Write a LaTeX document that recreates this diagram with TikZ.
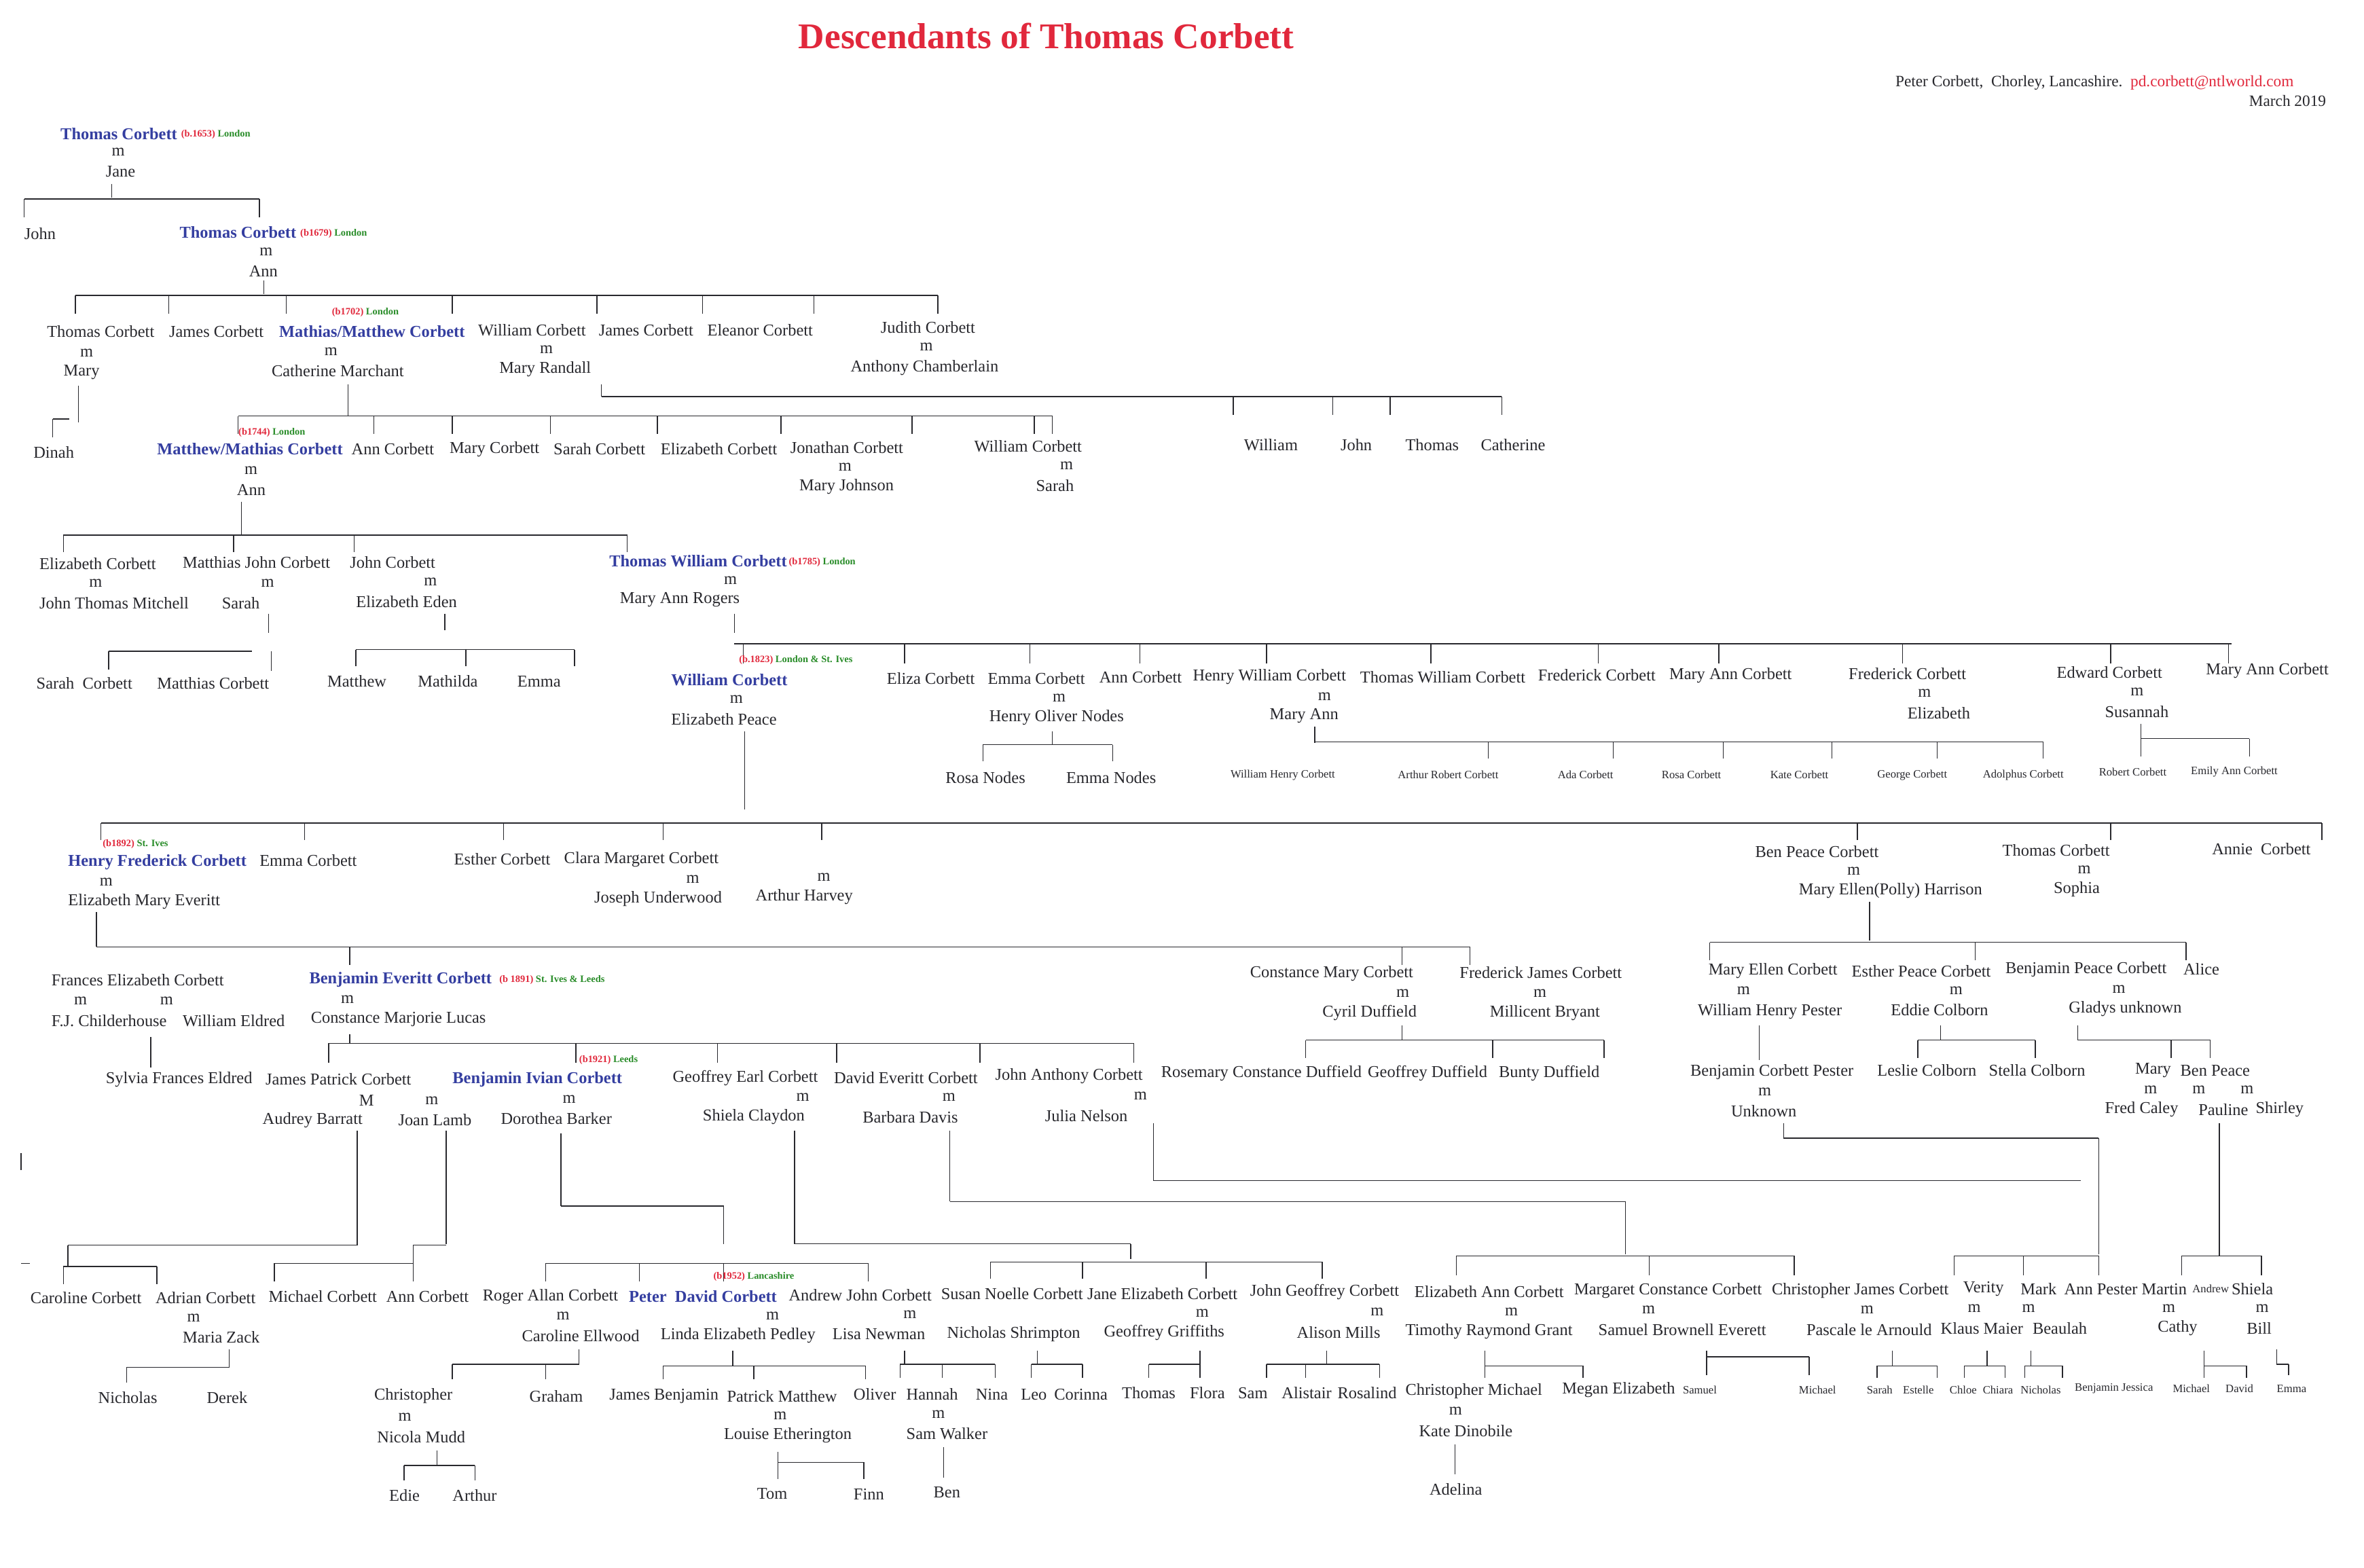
\documentclass[tikz,border=0pt]{standalone}
\usepackage{fontspec}
\setmainfont{Liberation Serif}
\definecolor{kb}{RGB}{52,62,160}
\definecolor{rd}{RGB}{225,40,60}
\definecolor{gr}{RGB}{40,140,40}
\definecolor{ink}{RGB}{40,40,45}
\newcounter{nn}
\newcommand\N[3]{\stepcounter{nn}\node[nm] (n\arabic{nn}) at (#1,#2) {#3};}
\newcommand\K[3]{\stepcounter{nn}\node[nm,kb,font=\fontsize{11}{12}\selectfont\bfseries] (n\arabic{nn}) at (#1,#2) {#3};}
\renewcommand\S[3]{\stepcounter{nn}\node[nm,font=\fontsize{7.5}{8}\selectfont] (n\arabic{nn}) at (#1,#2) {#3};}
\newcommand\B[4]{\stepcounter{nn}\node[nm,font=\fontsize{6.5}{7}\selectfont\bfseries] (n\arabic{nn}) at (#1,#2) {\color{rd}#3\ \color{gr}#4};}
\begin{document}
\begin{tikzpicture}[x=1pt,y=-1pt,
 nm/.style={anchor=west,inner sep=0pt,text=ink,font=\fontsize{11}{12}\selectfont},
 ln/.style={draw=ink,line width=0.6pt}]
\fill[white] (0,0) rectangle (1568,1040);
\node[font=\fontsize{24}{26}\selectfont\bfseries,text=rd] (title) at (694,24) {Descendants of Thomas Corbett};
\node[nm,font=\fontsize{10.5}{11}\selectfont] (auth) at (1257,55) {Peter Corbett,\ \ Chorley, Lancashire.\ \ \color{rd}pd.corbett@ntlworld.com};
\node[nm,anchor=east,font=\fontsize{10.5}{11}\selectfont] (date) at (1543,67) {March 2019};
% gen0
\K{40}{89}{Thomas Corbett}\B{120}{89}{(b.1653)}{London}
\N{74}{101}{m}\N{70}{114}{Jane}
\draw[ln] (74,122)--(74,131) (16,132)--(172,132) (16,132)--(16,144) (172,132)--(172,144);
\N{16}{155}{John}\K{119}{154}{Thomas Corbett}\B{199}{155}{(b1679)}{London}
\N{172}{167}{m}\N{165}{180}{Ann}
\draw[ln] (175,186)--(175,195) (50,196)--(622,196);
\foreach \x in {50,112,190,300,396,466,540,622} \draw[ln] (\x,196)--(\x,208);
% gen2
\N{31}{220}{Thomas Corbett}\N{112}{220}{James Corbett}\K{185}{220}{Mathias/Matthew Corbett}\B{220}{207}{(b1702)}{London}
\N{317}{219}{William Corbett}\N{397}{219}{James Corbett}\N{469}{219}{Eleanor Corbett}\N{584}{217}{Judith Corbett}
\N{53}{234}{m}\N{42}{247}{Mary}\N{215}{233}{m}\N{180}{246}{Catherine Marchant}\N{358}{232}{m}\N{331}{245}{Mary Randall}
\N{610}{230}{m}\N{564}{244}{Anthony Chamberlain}
\draw[ln] (52,256)--(52,280) (35,278)--(35,290) (35,278)--(46,278);
\N{22}{300}{Dinah}
\draw[ln] (231,255)--(231,276) (158,276)--(698,276);
\foreach \x in {158,248,300,365,436,518,605,686,698} \draw[ln] (\x,276)--(\x,288);
\draw[ln] (399,255)--(399,263) (399,263)--(996,263);
\foreach \x in {818,884,922,996} \draw[ln] (\x,263)--(\x,275);
\N{825}{295}{William}\N{889}{295}{John}\N{932}{295}{Thomas}\N{982}{295}{Catherine}
% gen3
\B{158}{287}{(b1744)}{London}\K{104}{298}{Matthew/Mathias Corbett}\N{233}{298}{Ann Corbett}\N{298}{298}{Mary Corbett}
\N{367}{298}{Sarah Corbett}\N{438}{298}{Elizabeth Corbett}\N{524}{297}{Jonathan Corbett}\N{556}{310}{m}\N{530}{323}{Mary Johnson}
\N{646}{296}{William Corbett}\N{703}{309}{m}\N{687}{322}{Sarah}
\N{162}{312}{m}\N{157}{325}{Ann}
\draw[ln] (160,333)--(160,355) (42,355)--(416,355);
\foreach \x in {42,155,235,416} \draw[ln] (\x,355)--(\x,366);
% gen4
\N{26}{374}{Elizabeth Corbett}\N{59}{387}{m}\N{26}{400}{John Thomas Mitchell}
\N{121}{373}{Matthias John Corbett}\N{173}{387}{m}\N{147}{400}{Sarah}
\N{232}{373}{John Corbett}\N{281}{386}{m}\N{236}{399}{Elizabeth Eden}
\K{404}{372}{Thomas William Corbett}\B{523}{373}{(b1785)}{London}\N{480}{385}{m}\N{411}{398}{Mary Ann Rogers}
\draw[ln] (178,407)--(178,420) (72,432)--(167,432) (72,432)--(72,444) (180,432)--(180,445);
\N{24}{453}{Sarah\ \ Corbett}\N{104}{453}{Matthias Corbett}
\draw[ln] (295,407)--(295,418) (236,431)--(381,431);
\foreach \x in {236,309,381} \draw[ln] (\x,431)--(\x,442);
\N{217}{452}{Matthew}\N{277}{452}{Mathilda}\N{343}{452}{Emma}
\draw[ln] (487,407)--(487,420) (487,427)--(1480,427);
\foreach \x in {493,600,683,756,840,949,1060,1140,1262,1400,1478} \draw[ln] (\x,427)--(\x,440);
% gen5
\B{490}{438}{(b.1823)}{London \& St. Ives}\K{445}{451}{William Corbett}\N{484}{464}{m}\N{445}{477}{Elizabeth Peace}
\N{588}{450}{Eliza Corbett}\N{655}{450}{Emma Corbett}\N{698}{463}{m}\N{656}{476}{Henry Oliver Nodes}
\N{729}{449}{Ann Corbett}\N{791}{449}{Henry William Corbett}\N{874}{462}{m}\N{842}{475}{Mary Ann}
\N{902}{449}{Thomas William Corbett}\N{1020}{448}{Frederick Corbett}\N{1107}{448}{Mary Ann Corbett}
\N{1226}{447}{Frederick Corbett}\N{1272}{460}{m}\N{1265}{473}{Elizabeth}
\N{1364}{446}{Edward Corbett}\N{1413}{459}{m}\N{1396}{472}{Susannah}\N{1463}{445}{Mary Ann Corbett}
\draw[ln] (698,485)--(698,494) (652,494)--(738,494) (652,494)--(652,505) (738,494)--(738,505);
\N{627}{516}{Rosa Nodes}\N{707}{516}{Emma Nodes}
\draw[ln] (872,482)--(872,493) (872,492)--(1355,492);
\foreach \x in {987,1070,1143,1215,1285,1355} \draw[ln] (\x,492)--(\x,503);
\S{816}{514}{William Henry Corbett}\S{927}{514}{Arthur Robert Corbett}\S{1033}{514}{Ada Corbett}\S{1102}{514}{Rosa Corbett}
\S{1174}{514}{Kate Corbett}\S{1245}{514}{George Corbett}\S{1315}{514}{Adolphus Corbett}
\draw[ln] (1420,480)--(1420,502) (1420,490)--(1492,490) (1492,490)--(1492,502);
\S{1392}{512}{Robert Corbett}\S{1453}{512}{Emily Ann Corbett}
\draw[ln] (494,485)--(494,537) (67,546)--(1540,546);
\foreach \x in {67,202,334,440,545,1232,1400,1540} \draw[ln] (\x,546)--(\x,557);
% gen6
\B{68}{560}{(b1892)}{St. Ives}\K{45}{572}{Henry Frederick Corbett}\N{172}{571}{Emma Corbett}\N{301}{570}{Esther Corbett}
\N{374}{570}{Clara Margaret Corbett}\N{455}{583}{m}\N{394}{596}{Joseph Underwood}\N{542}{582}{m}\N{501}{595}{Arthur Harvey}
\N{66}{585}{m}\N{45}{598}{Elizabeth Mary Everitt}
\N{1164}{565}{Ben Peace Corbett}\N{1225}{578}{m}\N{1193}{591}{Mary Ellen(Polly) Harrison}
\N{1328}{564}{Thomas Corbett}\N{1378}{577}{m}\N{1362}{590}{Sophia}\N{1467}{563}{Annie\ \ Corbett}
\draw[ln] (64,605)--(64,628) (64,628)--(975,628);
\foreach \x in {232,930,975} \draw[ln] (\x,628)--(\x,640);
\draw[ln] (1240,598)--(1240,624) (1134,625)--(1450,625);
\foreach \x in {1134,1310,1450} \draw[ln] (\x,625)--(\x,637);
% gen7
\N{34}{650}{Frances Elizabeth Corbett}\N{49}{664}{m}\N{106}{664}{m}\N{34}{677}{F.J. Childerhouse}\N{121}{677}{William Eldred}
\K{205}{650}{Benjamin Everitt Corbett}\B{331}{650}{(b 1891)}{St. Ives \& Leeds}\N{226}{663}{m}\N{206}{676}{Constance Marjorie Lucas}
\N{829}{646}{Constance Mary Corbett}\N{926}{659}{m}\N{877}{672}{Cyril Duffield}
\N{968}{645}{Frederick James Corbett}\N{1017}{659}{m}\N{988}{672}{Millicent Bryant}
\N{1133}{644}{Mary Ellen Corbett}\N{1152}{657}{m}\N{1126}{671}{William Henry Pester}
\N{1228}{644}{Esther Peace Corbett}\N{1293}{657}{m}\N{1254}{670}{Eddie Colborn}
\N{1330}{643}{Benjamin Peace Corbett}\N{1401}{656}{m}\N{1372}{669}{Gladys unknown}\N{1448}{643}{Alice}
\draw[ln] (100,688)--(100,708);\N{70}{716}{Sylvia Frances Eldred}
\draw[ln] (930,680)--(930,690) (866,690)--(1064,690);
\foreach \x in {866,990,1064} \draw[ln] (\x,690)--(\x,702);
\N{770}{712}{Rosemary Constance Duffield}\N{907}{712}{Geoffrey Duffield}\N{994}{712}{Bunty Duffield}
\draw[ln] (1167,680)--(1167,703);\N{1121}{711}{Benjamin Corbett Pester}\N{1166}{724}{m}\N{1148}{737}{Unknown}
\draw[ln] (1287,680)--(1287,690) (1272,690)--(1350,690) (1272,690)--(1272,702) (1350,690)--(1350,702);
\N{1245}{710}{Leslie Colborn}\N{1319}{710}{Stella Colborn}
\draw[ln] (1378,680)--(1378,690) (1378,690)--(1466,690) (1466,690)--(1466,702) (1440,690)--(1440,702);
\N{1416}{710}{Mary}\N{1446}{710}{Ben Peace}\N{1422}{723}{m}\N{1454}{723}{m}\N{1486}{723}{m}
\N{1396}{736}{Fred Caley}\N{1458}{736}{Pauline}\N{1496}{736}{Shirley}
\draw[ln] (232,686)--(232,692) (218,692)--(752,692);
\foreach \x in {218,382,476,555,650,752} \draw[ln] (\x,692)--(\x,705);
% gen8
\N{176}{716}{James Patrick Corbett}\N{238}{730}{M}\N{174}{743}{Audrey Barratt}\N{282}{730}{m}\N{264}{743}{Joan Lamb}
\B{384}{703}{(b1921)}{Leeds}\K{300}{716}{Benjamin Ivian Corbett}\N{373}{729}{m}\N{332}{742}{Dorothea Barker}
\N{446}{715}{Geoffrey Earl Corbett}\N{528}{728}{m}\N{466}{741}{Shiela Claydon}
\N{553}{715}{David Everitt Corbett}\N{625}{728}{m}\N{572}{741}{Barbara Davis}
\N{660}{714}{John Anthony Corbett}\N{752}{727}{m}\N{693}{740}{Julia Nelson}
\draw[ln] (14,765)--(14,776) (14,838)--(20,838);
\draw[ln] (237,750)--(237,826) (45,826)--(237,826) (45,826)--(45,840) (42,840)--(104,840) (104,840)--(104,852) (42,840)--(42,852);
\draw[ln] (296,750)--(296,825) (274,826)--(296,826) (274,826)--(274,838) (182,838)--(274,838) (182,838)--(182,850) (274,838)--(274,850);
\draw[ln] (372,752)--(372,800) (372,800)--(480,800) (480,800)--(480,825) (362,838)--(576,838);
\foreach \x in {362,424,480,576} \draw[ln] (\x,838)--(\x,850);
\draw[ln] (527,750)--(527,825) (527,825)--(750,825) (750,825)--(750,835) (657,837)--(877,837);
\foreach \x in {657,718,800,877} \draw[ln] (\x,837)--(\x,848);
\draw[ln] (630,750)--(630,797) (630,797)--(1078,797) (1078,797)--(1078,832) (966,833)--(1190,833);
\foreach \x in {966,1094,1190} \draw[ln] (\x,833)--(\x,846);
\draw[ln] (765,745)--(765,783) (765,783)--(1380,783);
\draw[ln] (1183,745)--(1183,755) (1183,755)--(1392,755) (1392,755)--(1392,832) (1296,833)--(1392,833);
\foreach \x in {1296,1342,1392} \draw[ln] (\x,833)--(\x,846);
\draw[ln] (1472,745)--(1472,820) (1447,833)--(1500,833) (1447,833)--(1447,846) (1500,833)--(1500,846) (1472,820)--(1472,833);
% gen9
\N{20}{861}{Caroline Corbett}\N{103}{861}{Adrian Corbett}\N{124}{874}{m}\N{121}{887}{Maria Zack}
\N{178}{860}{Michael Corbett}\N{256}{860}{Ann Corbett}\N{320}{860}{Roger Allan Corbett}\N{369}{873}{m}\N{346}{886}{Caroline Ellwood}
\B{473}{847}{(b1952)}{Lancashire}\K{417}{860}{Peter\ \ \color{kb}David Corbett}
\N{523}{859}{Andrew John Corbett}\N{599}{872}{m}\N{552}{885}{Lisa Newman}\N{438}{886}{Linda Elizabeth Pedley}\N{508}{873}{m}
\N{624}{858}{Susan Noelle Corbett}\N{628}{885}{Nicholas Shrimpton}\N{721}{858}{Jane Elizabeth Corbett}\N{793}{871}{m}\N{732}{884}{Geoffrey Griffiths}
\N{829}{857}{John Geoffrey Corbett}\N{909}{870}{m}\N{860}{884}{Alison Mills}
\N{938}{857}{Elizabeth Ann Corbett}\N{998}{870}{m}\N{932}{883}{Timothy Raymond Grant}
\N{1044}{856}{Margaret Constance Corbett}\N{1089}{869}{m}\N{1060}{882}{Samuel Brownell Everett}
\N{1175}{856}{Christopher James Corbett}\N{1234}{869}{m}\N{1198}{882}{Pascale le Arnould}
\N{1302}{855}{Verity}\N{1305}{868}{m}\N{1287}{881}{Klaus Maier}\N{1340}{855}{Mark}\N{1341}{868}{m}\N{1348}{881}{Beaulah}
\N{1369}{855}{Ann Pester Martin}\S{1454}{855}{Andrew}\N{1480}{855}{Shiela}\N{1434}{868}{m}\N{1431}{881}{Cathy}\N{1496}{868}{m}\N{1490}{881}{Bill}
% gen10
\draw[ln] (152,895)--(152,907) (84,907)--(152,907) (84,907)--(84,917);
\N{65}{927}{Nicholas}\N{137}{927}{Derek}
\draw[ln] (384,895)--(384,905) (300,905)--(384,905) (300,905)--(300,915) (362,905)--(362,915);
\N{248}{926}{Christopher}\N{264}{940}{m}\N{250}{953}{Nicola Mudd}\N{351}{926}{Graham}
\draw[ln] (486,896)--(486,906) (440,906)--(574,906);
\foreach \x in {440,500,574} \draw[ln] (\x,906)--(\x,915);
\N{404}{926}{James Benjamin}\N{482}{926}{Patrick Matthew}\N{513}{939}{m}\N{480}{952}{Louise Etherington}
\draw[ln] (600,896)--(600,905) (597,905)--(660,905) (597,905)--(597,914) (625,905)--(625,914) (660,905)--(660,914);
\N{566}{925}{Oliver}\N{601}{925}{Hannah}\N{618}{938}{m}\N{601}{951}{Sam Walker}\N{647}{925}{Nina}
\draw[ln] (688,896)--(688,905) (684,905)--(718,905) (684,905)--(684,914) (718,905)--(718,914);
\N{677}{925}{Leo}\N{699}{925}{Corinna}
\draw[ln] (796,896)--(796,905) (762,905)--(796,905) (762,905)--(762,914) (796,905)--(796,914);
\N{744}{924}{Thomas}\N{789}{924}{Flora}
\draw[ln] (880,896)--(880,905) (840,905)--(915,905);
\foreach \x in {840,866,915} \draw[ln] (\x,905)--(\x,914);
\N{821}{924}{Sam}\N{850}{924}{Alistair}\N{887}{924}{Rosalind}
\draw[ln] (985,896)--(985,906) (985,906)--(1050,906) (1050,906)--(1050,914) (985,906)--(985,914);
\N{932}{923}{Christopher Michael}\N{961}{936}{m}\N{941}{949}{Kate Dinobile}\N{1036}{922}{Megan Elizabeth}
\draw[ln] (1132,896)--(1132,900) (1132,900)--(1200,900) (1200,900)--(1200,912) (1132,900)--(1132,912);
\S{1116}{922}{Samuel}\S{1193}{922}{Michael}
\draw[ln] (1255,896)--(1255,906) (1245,906)--(1285,906) (1245,906)--(1245,914) (1285,906)--(1285,914);
\S{1238}{922}{Sarah}\S{1262}{922}{Estelle}
\draw[ln] (1318,896)--(1318,906) (1303,906)--(1330,906) (1303,906)--(1303,914) (1330,906)--(1330,914);
\S{1293}{922}{Chloe}\S{1315}{922}{Chiara}
\draw[ln] (1347,896)--(1347,906) (1343,906)--(1368,906) (1343,906)--(1343,914) (1368,906)--(1368,914);
\S{1340}{922}{Nicholas}\S{1376}{921}{Benjamin Jessica}
\draw[ln] (1462,896)--(1462,906) (1462,906)--(1490,906) (1462,906)--(1462,914) (1490,906)--(1490,914);
\S{1441}{921}{Michael}\S{1476}{921}{David}
\draw[ln] (1510,895)--(1510,905) (1510,905)--(1518,905) (1518,905)--(1518,912);\S{1510}{921}{Emma}
% gen11
\draw[ln] (290,962)--(290,972) (268,972)--(315,972) (268,972)--(268,982) (315,972)--(315,982);
\N{258}{992}{Edie}\N{300}{992}{Arthur}
\draw[ln] (516,963)--(516,970) (516,970)--(573,970) (516,970)--(516,981) (573,970)--(573,981);
\N{502}{991}{Tom}\N{566}{991}{Finn}
\draw[ln] (626,960)--(626,980);\N{619}{990}{Ben}
\draw[ln] (965,958)--(965,978);\N{948}{988}{Adelina}
\end{tikzpicture}
\end{document}
